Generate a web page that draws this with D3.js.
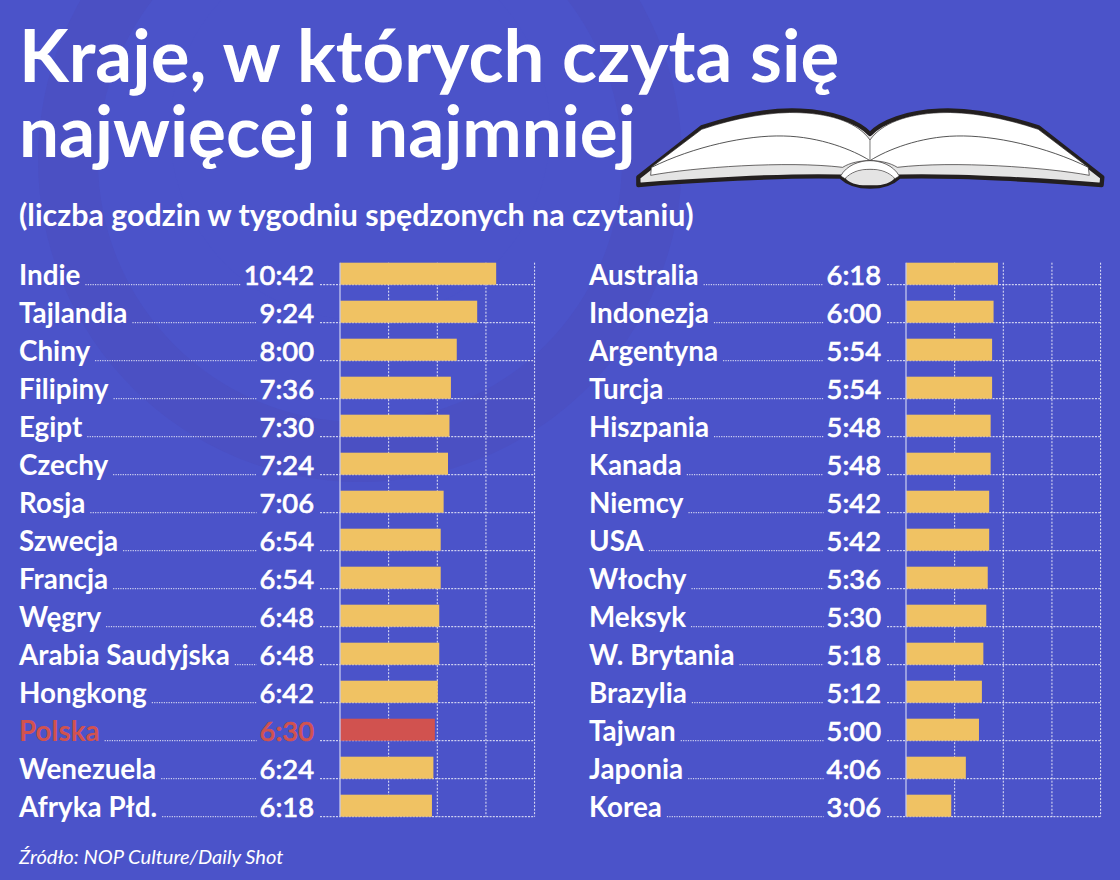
<!DOCTYPE html>
<html><head><meta charset="utf-8">
<script src="https://cdn.jsdelivr.net/npm/d3@7"></script>
<style>html,body{margin:0;padding:0;background:#4b53c9}svg{display:block}text{font-family:Lato,sans-serif}</style>
</head><body><svg id="c" width="1120" height="880"></svg>
<script>
const titleLines = ["Kraje, w których czyta się", "najwięcej i najmniej"];
const subtitle = "(liczba godzin w tygodniu spędzonych na czytaniu)";
const source = "Źródło: NOP Culture/Daily Shot";
const leftCountries = ["Indie","Tajlandia","Chiny","Filipiny","Egipt","Czechy","Rosja","Szwecja","Francja","Węgry","Arabia Saudyjska","Hongkong","Polska","Wenezuela","Afryka Płd."];
const leftTimes = ["10:42","9:24","8:00","7:36","7:30","7:24","7:06","6:54","6:54","6:48","6:48","6:42","6:30","6:24","6:18"];
const rightCountries = ["Australia","Indonezja","Argentyna","Turcja","Hiszpania","Kanada","Niemcy","USA","Włochy","Meksyk","W. Brytania","Brazylia","Tajwan","Japonia","Korea"];
const rightTimes = ["6:18","6:00","5:54","5:54","5:48","5:48","5:42","5:42","5:36","5:30","5:18","5:12","5:00","4:06","3:06"];
const tickMinutes = [0,200,400,600,800];
const highlighted = "Polska";

const toMin = t => { const [h,m] = t.split(":").map(Number); return h*60+m; };
const svg = d3.select("#c");
const WHITE = "#ffffff", BAR = "#f0c263", RED = "#d1524f";

// faint background swirl
const disc = r => d3.arc()({innerRadius:0,outerRadius:r,startAngle:0,endAngle:2*Math.PI});
svg.append("rect").attr("width",1120).attr("height",880).attr("fill","#4b53c9");
svg.append("path").attr("fill","#4b50c3").attr("fill-rule","evenodd")
  .attr("d", disc(322) + " " + disc(262))
  .attr("transform","translate(360,160)");
svg.append("path").attr("fill","#4b53c9")
  .attr("d", disc(190))
  .attr("transform","translate(360,130)");

// title
const title = svg.append("text").attr("fill",WHITE).style("font-weight",700);
title.selectAll("tspan").data(titleLines).join("tspan")
  .attr("x",19).attr("y",(d,i)=>[81.5,157][i])
  .attr("font-size",(d,i)=>[72.6,71][i]).text(d=>d);
svg.append("text").attr("x",19).attr("y",225.5).attr("fill",WHITE)
  .attr("font-size",30.4).style("font-weight",700).text(subtitle);
svg.append("text").attr("x",19).attr("y",864).attr("fill",WHITE)
  .attr("font-size",20.1).attr("font-style","italic").text(source);

// book
const book = svg.append("g").attr("transform","translate(620,90) scale(0.3333)");
book.append("path").attr("fill","#e4e4e4").attr("stroke","#231f20").attr("stroke-width",13).attr("stroke-linejoin","round")
  .attr("d","M55,262 L245,112 C350,78 460,58 540,62 C640,66 715,95 750,132 C785,95 860,66 960,62 C1040,58 1150,78 1255,112 L1447,262 L1445,285 C1300,272 1000,255 838,260 C815,282 785,290 750,290 C715,290 685,282 662,260 C500,255 200,272 55,285 Z");
book.append("path").attr("fill",WHITE).attr("stroke","#231f20").attr("stroke-width",2)
  .attr("d","M92,256 L94,232 L245,118 C350,82 460,64 540,68 C640,72 715,100 750,150 C785,100 860,72 960,68 C1040,64 1150,82 1255,118 L1405,232 L1408,256 C1280,232 1000,212 832,232 C810,218 780,212 750,212 C720,212 690,218 668,232 C500,212 220,232 92,256 Z");
book.append("path").attr("fill","none").attr("stroke","#333").attr("stroke-width",2.5)
  .attr("d","M95,232 C220,170 380,135 490,138 C600,140 700,180 750,212 C800,180 900,140 1010,138 C1120,135 1280,170 1405,232");
book.append("path").attr("fill","none").attr("stroke","#777").attr("stroke-width",3).attr("d","M750,150 L750,212");
book.append("path").attr("fill","#ffffff").attr("stroke","#231f20").attr("stroke-width",2)
  .attr("d","M662,258 C680,225 720,212 750,212 C780,212 820,225 838,258 L825,266 C805,245 780,238 750,238 C720,238 695,245 675,266 Z");
book.append("path").attr("fill","#e4e4e4").attr("d","M677,266 C695,247 720,240 750,240 C780,240 805,247 823,266 C805,284 780,286 750,286 C720,286 695,284 677,266 Z");

// columns
const rowY = d3.scalePoint().domain(d3.range(15)).range([284.7, 816.7]);
function column(names, times, cfg){
  const x = d3.scaleLinear().domain([0,800]).range([cfg.x0, cfg.x0+194.6]);
  const g = svg.append("g");
  const top = rowY(0)-22, bottom = rowY(14);
  g.selectAll(".grid").data(tickMinutes.slice(1)).join("line")
    .attr("x1",d=>x(d)).attr("x2",d=>x(d)).attr("y1",top).attr("y2",bottom)
    .attr("stroke",WHITE).attr("stroke-width",1).attr("stroke-dasharray","2 1.5").attr("opacity",.85);
  names.forEach((name,i)=>{
    const y = rowY(i), col = name===highlighted ? RED : WHITE;
    const lab = g.append("text").attr("x",cfg.lx).attr("y",y).attr("fill",col)
      .attr("font-size",27.8).style("font-weight",700).text(name);
    const val = g.append("text").attr("x",cfg.vx).attr("y",y).attr("text-anchor","end").attr("fill",col)
      .attr("font-size",27.3).style("font-weight",500).attr("stroke",col).attr("stroke-width",.65).text(times[i]);
    const lend = cfg.lx + lab.node().getComputedTextLength() + 5;
    const vstart = cfg.vx - val.node().getComputedTextLength() - 3;
    g.append("line").attr("x1",lend).attr("x2",vstart).attr("y1",y).attr("y2",y)
      .attr("stroke",WHITE).attr("stroke-width",1).attr("stroke-dasharray","1.2 1.2").attr("opacity",.9);
    g.append("line").attr("x1",cfg.vx+6).attr("x2",x(800)).attr("y1",y).attr("y2",y)
      .attr("stroke",WHITE).attr("stroke-width",1).attr("stroke-dasharray","2 1.2").attr("opacity",.9);
    g.append("rect").attr("x",x(0)).attr("y",y-22).attr("height",22)
      .attr("width",x(toMin(times[i]))-x(0)).attr("fill",name===highlighted?RED:BAR);
  });
  g.append("line").attr("x1",x(0)).attr("x2",x(0)).attr("y1",top).attr("y2",bottom)
    .attr("stroke","#c3c6ee").attr("stroke-width",1.3);
}
column(leftCountries,leftTimes,{lx:19,vx:314,x0:340});
column(rightCountries,rightTimes,{lx:589,vx:881,x0:906});
</script></body></html>
